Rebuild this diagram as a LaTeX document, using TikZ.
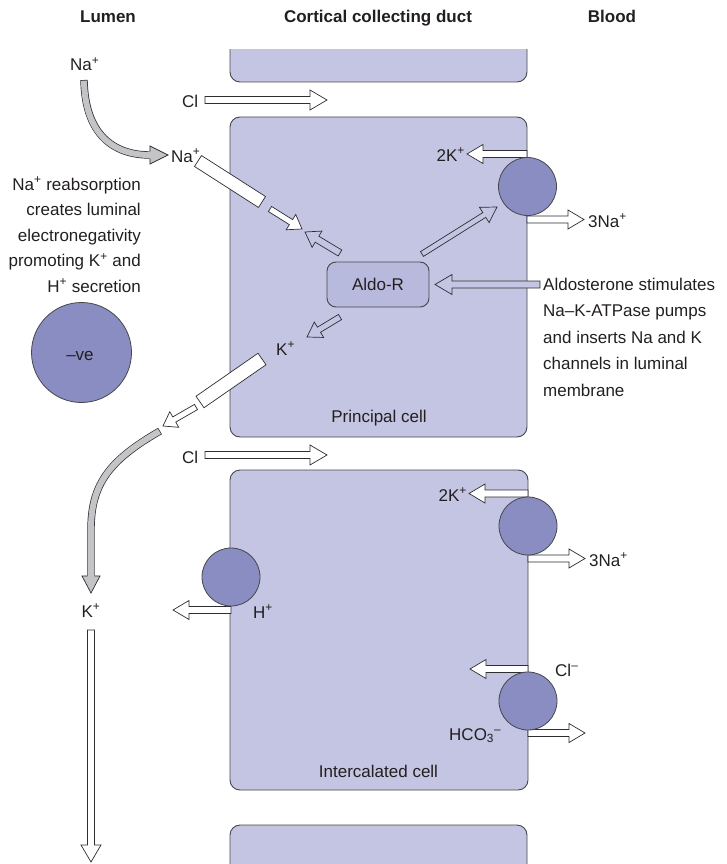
\documentclass[tikz,border=0pt]{standalone}
\usepackage{fontspec}
\setmainfont{Liberation Sans}
\usetikzlibrary{calc}
\definecolor{cellc}{RGB}{196,197,226}
\definecolor{aldoc}{RGB}{184,186,221}
\definecolor{pumpc}{RGB}{138,141,194}
\definecolor{edgec}{RGB}{70,70,75}
\definecolor{arrc}{RGB}{45,45,50}
\definecolor{greyc}{RGB}{196,196,198}
\definecolor{txt}{RGB}{35,31,32}
\newcommand\ssup[1]{\textsuperscript{#1}}
\newcommand\blockarrow[6][]{%
  \coordinate (baC) at ($(#3)!#6!(#2)$);
  \filldraw[barrow,#1] ($(#2)!#4!90:(#3)$) -- ($(baC)!#4!90:(#3)$) -- ($(baC)!#5!90:(#3)$) -- (#3)
    -- ($(baC)!#5!-90:(#3)$) -- ($(baC)!#4!-90:(#3)$) -- ($(#2)!#4!-90:(#3)$) -- cycle;}
\newcommand\channel[3]{%
  \filldraw[chan] ($(#1)!#3!90:(#2)$) -- ($(#2)!#3!-90:(#1)$) -- ($(#2)!#3!90:(#1)$) -- ($(#1)!#3!-90:(#2)$) -- cycle;}
\begin{document}
\begin{tikzpicture}[x=1pt,y=-1pt, font=\fontsize{17}{25.5}\selectfont, text=txt,
  cell/.style={draw=edgec, line width=0.9pt, fill=cellc, rounded corners=10pt},
  pump/.style={circle, draw=edgec, line width=0.8pt, fill=pumpc, minimum size=58pt, inner sep=0pt},
  barrow/.style={draw=arrc, fill=white, line width=0.7pt, line join=miter},
  inarrow/.style={fill=cellc},
  chan/.style={draw=arrc, fill=white, line width=0.7pt},
  lw/.style={inner sep=0pt, anchor=base west},
  le/.style={inner sep=0pt, anchor=base east},
  lc/.style={inner sep=0pt, anchor=base},
  hdr/.style={inner sep=0pt, anchor=base, font=\fontsize{17}{20}\selectfont\bfseries},
  greyshaft/.style={line width=7.4pt, draw=arrc},
  greyin/.style={line width=6pt, draw=greyc, shorten <=0.7pt}]
\useasboundingbox (0,0) rectangle (726,864);

% headers
\node[hdr] (hl) at (108,23) {Lumen};
\node[hdr] (hc) at (378,23) {Cortical collecting duct};
\node[hdr] (hb) at (612,23) {Blood};

% cells
\begin{scope}
  \clip (0,50) rectangle (726,864);
  \draw[cell] (230,20) rectangle (527,82);
  \draw[cell] (230,825) rectangle (527,900);
\end{scope}
\node[cell, minimum width=297pt, minimum height=320pt, inner sep=0pt] (pc) at (378.5,277) {};
\node[cell, minimum width=298pt, minimum height=320pt, inner sep=0pt] (ic) at (379,630) {};

% Cl arrows between cells
\coordinate (c1a) at (205,100); \coordinate (c1b) at (327,100);
\blockarrow{c1a}{c1b}{3.5pt}{10pt}{17pt}
\node[lw] (cl1) at (182,107) {Cl};
\coordinate (c2a) at (205,455); \coordinate (c2b) at (327,455);
\blockarrow{c2a}{c2b}{3.5pt}{10pt}{17pt}
\node[lw] (cl2) at (182,463) {Cl};

% lumen Na+ grey curved arrow
\node[lw] (na1) at (70,71) {Na\ssup{+}};
\coordinate (gn0) at (84,80); \coordinate (gn1) at (150,155);
\draw[greyshaft] (gn0) .. controls (85,133) and (112,155) .. (gn1);
\draw[greyin] (gn0) .. controls (85,133) and (112,155) .. (gn1);
\fill[greyc] (149.5,151.6) -- (150,146) -- (168,155) -- (150,164) -- (149.5,158.4) -- cycle;
\draw[arrc, line width=0.7pt, line join=miter] (150,151.3) -- (150,146) -- (168,155) -- (150,164) -- (150,158.7);
\node[lw] (na2) at (171,162) {Na\ssup{+}};

% Na channel and arrow
\coordinate (nca) at (198,161); \coordinate (ncb) at (262,202);
\channel{nca}{ncb}{6.5pt}
\coordinate (naa) at (270,209); \coordinate (nab) at (302,229);
\blockarrow{naa}{nab}{3pt}{9pt}{13pt}

% Aldo-R
\node[draw=edgec, line width=0.9pt, fill=aldoc, rounded corners=9pt, minimum width=102pt, minimum height=45pt, inner sep=0pt] (aldo) at (378,284.5) {Aldo-R};
\coordinate (a1a) at (340,253); \coordinate (a1b) at (305,232);
\blockarrow[inarrow]{a1a}{a1b}{3.5pt}{9.5pt}{14pt}
\coordinate (a2a) at (422,254); \coordinate (a2b) at (497,207);
\blockarrow[inarrow]{a2a}{a2b}{2.8pt}{9pt}{15pt}
\coordinate (a3a) at (340,317); \coordinate (a3b) at (307,337);
\blockarrow[inarrow]{a3a}{a3b}{3pt}{9pt}{14pt}
\coordinate (a4a) at (540,284.5); \coordinate (a4b) at (435,284.5);
\blockarrow[inarrow]{a4a}{a4b}{3.5pt}{10pt}{17pt}

% K channel and arrow
\node[lw] (kp) at (276,355) {K\ssup{+}};
\coordinate (kca) at (262,359); \coordinate (kcb) at (200,402);
\channel{kca}{kcb}{7pt}
\coordinate (kaa) at (196,407); \coordinate (kab) at (163,426);
\blockarrow{kaa}{kab}{3pt}{9pt}{13pt}

% grey K arrow in lumen
\coordinate (gk0) at (160,431); \coordinate (gk1) at (91,576);
\draw[greyshaft] (gk0) .. controls (108,461) and (91,485) .. (91,530) -- (gk1);
\draw[greyin] (gk0) .. controls (108,461) and (91,485) .. (91,530) -- (gk1);
\fill[greyc] (87.6,575.5) -- (82,576) -- (91,593) -- (100,576) -- (94.4,575.5) -- cycle;
\draw[arrc, line width=0.7pt, line join=miter] (87.7,576) -- (82,576) -- (91,593) -- (100,576) -- (94.3,576);
\node[lc] (kl) at (91,617) {K\ssup{+}};
\coordinate (kl0) at (91,630); \coordinate (kl1) at (91,862);
\blockarrow{kl0}{kl1}{3.5pt}{10pt}{17pt}

% principal cell pump
\coordinate (p1a) at (527,154); \coordinate (p1b) at (467,154);
\blockarrow{p1a}{p1b}{3.5pt}{9.5pt}{16pt}
\coordinate (p1c) at (527,219.5); \coordinate (p1d) at (584,219.5);
\blockarrow{p1c}{p1d}{3.5pt}{9.5pt}{16pt}
\node[pump] (pump1) at (527.5,186.5) {};
\node[le] (k2a) at (465,161) {2K\ssup{+}};
\node[lw] (n3a) at (588,227) {3Na\ssup{+}};
\node[lc] (pcl) at (379,422) {Principal cell};

% intercalated cell pumps
\coordinate (p2a) at (528,493.5); \coordinate (p2b) at (469,493.5);
\blockarrow{p2a}{p2b}{3.5pt}{9.5pt}{16pt}
\coordinate (p2c) at (528,558.5); \coordinate (p2d) at (585,558.5);
\blockarrow{p2c}{p2d}{3.5pt}{9.5pt}{16pt}
\node[pump] (pump2) at (528,526) {};
\node[le] (k2b) at (467,501) {2K\ssup{+}};
\node[lw] (n3b) at (589,566) {3Na\ssup{+}};

\coordinate (hpa) at (231,610); \coordinate (hpb) at (173,610);
\blockarrow{hpa}{hpb}{3.5pt}{9.5pt}{16pt}
\node[pump] (pump3) at (231,577) {};
\node[lw] (hp) at (253,618) {H\ssup{+}};

\coordinate (cla) at (528,669); \coordinate (clb) at (470,669);
\blockarrow{cla}{clb}{3.5pt}{9.5pt}{16pt}
\coordinate (hca) at (528,733); \coordinate (hcb) at (585,733);
\blockarrow{hca}{hcb}{3.5pt}{9.5pt}{16pt}
\node[pump] (pump4) at (528,701) {};
\node[lw] (clm) at (555,676) {Cl\ssup{–}};
\node[lw] (hco) at (449,740) {HCO\textsubscript{3}\textsuperscript{–}};
\node[lc] (icl) at (378.5,777) {Intercalated cell};

% left explanatory text
\node[le] (t1) at (141,190) {Na\ssup{+} reabsorption};
\node[le] (t2) at (141,215.5) {creates luminal};
\node[le] (t3) at (141,241) {electronegativity};
\node[le] (t4) at (141,266.5) {promoting K\ssup{+} and};
\node[le] (t5) at (141,292) {H\ssup{+} secretion};
\node[circle, draw=edgec, line width=0.8pt, fill=pumpc, minimum size=100pt, inner sep=0pt] (neg) at (81.5,352.5) {};
\node[lc] (negt) at (80,360) {–ve};

% right explanatory text
\node[lw] (r1) at (543,290) {Aldosterone stimulates};
\node[lw] (r2) at (543,316.5) {Na–K-ATPase pumps};
\node[lw] (r3) at (543,343) {and inserts Na and K};
\node[lw] (r4) at (543,369.5) {channels in luminal};
\node[lw] (r5) at (543,396) {membrane};
\end{tikzpicture}
\end{document}
